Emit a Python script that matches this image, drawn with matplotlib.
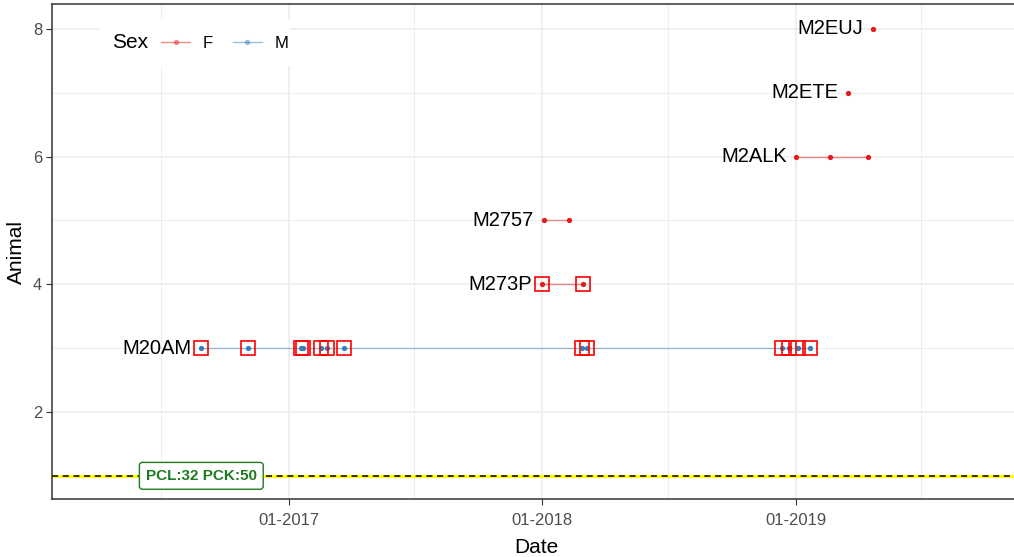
import matplotlib
matplotlib.use("Agg")
import matplotlib.pyplot as plt
import matplotlib.dates as mdates
from matplotlib.lines import Line2D
from matplotlib.patches import Rectangle
import pandas as pd

plt.rcParams["font.family"] = ["Liberation Sans", "DejaVu Sans"]

# datos
animals = ["M20AM", "M273P", "M2757", "M2ALK", "M2ETE", "M2EUJ"]
animal_y = [3, 4, 5, 6, 7, 8]
animal_sex = ["M", "F", "F", "F", "F", "F"]
animal_dates = [
    ["2016-08-28", "2016-11-03", "2017-01-18", "2017-01-22", "2017-02-17",
     "2017-02-25", "2017-03-21", "2018-02-27", "2018-03-07", "2018-12-12",
     "2018-12-23", "2019-01-04", "2019-01-21"],
    ["2017-12-31", "2018-02-28"],
    ["2018-01-03", "2018-02-08"],
    ["2019-01-02", "2019-02-20", "2019-04-15"],
    ["2019-03-18"],
    ["2019-04-22"],
]
marked = ["M20AM", "M273P"]  # animales con cuadrado rojo
ref_y = 1
ref_label = "PCL:32 PCK:50"
ref_label_date = "2016-08-28"
sex_colors = {"F": "#E41A1C", "M": "#377EB8"}
x_ticks = ["2017-01-01", "2018-01-01", "2019-01-01"]
x_minor = ["2016-07-01", "2017-07-01", "2018-07-01", "2019-07-01"]
y_ticks = [2, 4, 6, 8]
y_minor = [1, 3, 5, 7]

W, H = 1014, 557
fig = plt.figure(figsize=(W / 100, H / 100), dpi=100)
# el panel sigue un poco fuera del borde derecho, como en la imagen
ax = fig.add_axes([52 / W, 1 - 499 / H, (1020 - 52) / W, 495 / H])

for name, y, sex, dates in zip(animals, animal_y, animal_sex, animal_dates):
    d = pd.to_datetime(dates)
    yy = [y] * len(d)
    col = sex_colors[sex]
    ax.plot(d, yy, color=col, alpha=0.5, lw=1, zorder=3)
    ax.plot(d, yy, "o", color=col, ms=3.8, mec="none", zorder=4)
    if name in marked:
        ax.plot(d, yy, "s", mfc="none", mec="red", ms=10.5, mew=1.2, zorder=5)
    ax.annotate(name, (d.min(), y), xytext=(-7, 0), textcoords="offset points",
                ha="right", va="center", fontsize=14.5, color="black", zorder=6)

ax.axhline(ref_y, color="yellow", lw=2.2, zorder=2)
ax.axhline(ref_y, color="black", lw=1.1, ls=(0, (4, 3)), zorder=2.5)
ax.text(pd.Timestamp(ref_label_date), ref_y, ref_label, ha="center", va="center",
        fontsize=11, fontweight="bold", color="#1E7B1E", zorder=6,
        bbox=dict(boxstyle="round,pad=0.42,rounding_size=0.2", fc="white",
                  ec="#1E7B1E", lw=1))

ax.set_xlim(pd.Timestamp("2016-01-26"), pd.Timestamp("2019-11-20"))
ax.set_ylim(0.637, 8.39)
ax.set_xticks(pd.to_datetime(x_ticks))
ax.set_xticks(pd.to_datetime(x_minor), minor=True)
ax.xaxis.set_major_formatter(mdates.DateFormatter("%m-%Y"))
ax.set_yticks(y_ticks)
ax.set_yticks(y_minor, minor=True)

ax.grid(True, which="major", color="#EBEBEB", lw=1.1, zorder=0)
ax.grid(True, which="minor", color="#EBEBEB", lw=0.6, zorder=0)
ax.set_axisbelow(True)
ax.tick_params(which="major", length=4, width=0.8, color="#333333",
               labelcolor="#4D4D4D", labelsize=12, pad=3)
ax.tick_params(axis="x", pad=6)
ax.tick_params(which="minor", length=0)
for s in ax.spines.values():
    s.set_color("#333333")
    s.set_linewidth(1.1)

ax.set_xlabel("Date", fontsize=15, labelpad=7)
ax.set_ylabel("Animal", fontsize=15, labelpad=5)

# leyenda horizontal con titulo a la izquierda
axw = 1020 - 52
ax.add_patch(Rectangle(((100 - 52) / axw, (499 - 66) / 495), 190 / axw, 46 / 495,
                       transform=ax.transAxes, fc="white", ec="none", zorder=5))
ax.text((112 - 52) / axw, (499 - 43) / 495, "Sex", transform=ax.transAxes,
        fontsize=15, va="center", ha="left", zorder=6)
handles = [Line2D([], [], color=sex_colors[k], alpha=0.5, lw=1, marker="o",
                  ms=3.8, mfc=sex_colors[k], mec="none") for k in ["F", "M"]]
leg = ax.legend(handles, ["F", "M"], ncol=2, frameon=False, fontsize=12,
                loc="center left", bbox_to_anchor=((161 - 52) / axw, (499 - 43) / 495),
                borderaxespad=0, borderpad=0, handlelength=1.75,
                columnspacing=1.2, handletextpad=0.75)
leg.set_zorder(7)

plt.savefig("out.png", dpi=100)
plt.close()
